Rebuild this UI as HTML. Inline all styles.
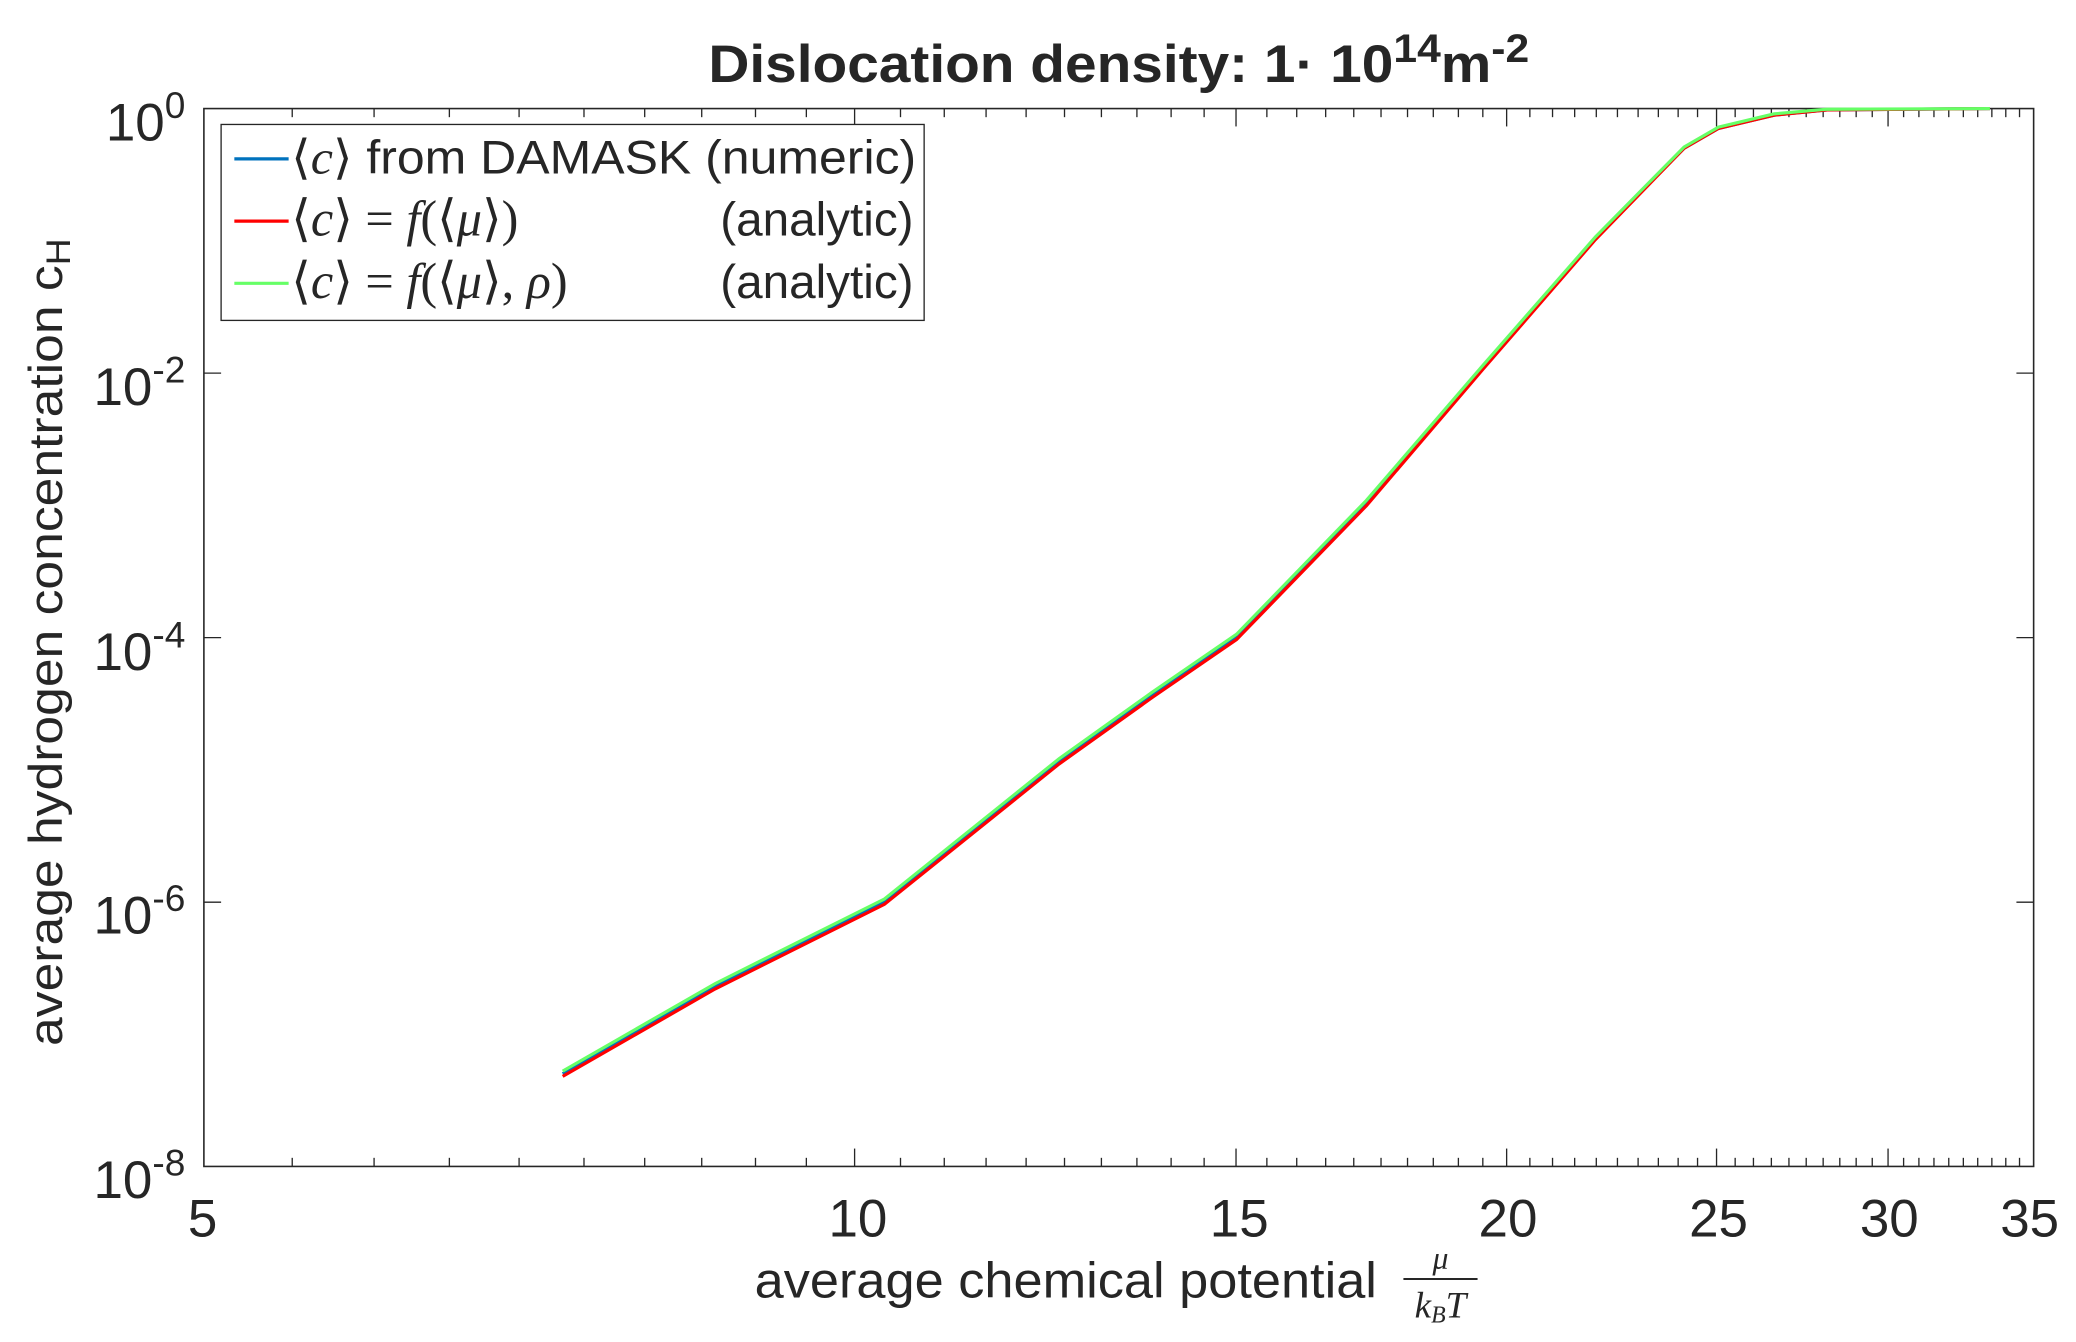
<!DOCTYPE html>
<html><head><meta charset="utf-8"><style>
html,body{margin:0;padding:0;background:#fff;}
svg{display:block;}
text{font-family:"Liberation Sans",sans-serif;fill:#262626;}
.m{font-family:"Liberation Serif",serif;font-style:italic;}
.r{font-family:"Liberation Serif",serif;}
</style></head><body>
<svg id="s" width="2076" height="1342" viewBox="0 0 1568 1013.6" preserveAspectRatio="none" xmlns="http://www.w3.org/2000/svg">
<rect x="0" y="0" width="1568" height="1014" fill="#fff"/>
<g id="ticks" stroke="#262626" stroke-width="1"></g>
<rect x="154" y="82" width="1382" height="799" fill="none" stroke="#262626" stroke-width="1.2"/>
<polyline fill="none" stroke="#0072bd" stroke-width="2.4" points="425,811 540,745 668,681 800,575 870,525 934,481 1032,380 1120,278 1205,180 1272,112 1298,97 1340,87 1380,83 1503,82"/>
<polyline fill="none" stroke="#ff0000" stroke-width="2.4" points="425,813 540,747 668,683 800,577 870,527 934,483 1032,382 1120,279 1205,181 1272,112 1298,97 1340,87 1380,83 1503,82"/>
<polyline fill="none" stroke="#66ff66" stroke-width="2.4" points="425,809 540,743 668,679 800,573 870,523 934,479 1032,378 1120,276 1205,179 1272,111 1298,96 1340,86 1380,82.5 1503,82"/>
<rect x="167" y="94" width="531" height="148" fill="#fff" stroke="#262626" stroke-width="1"/>
<line x1="177" y1="120" x2="218" y2="120" stroke="#0072bd" stroke-width="2.4"/>
<line x1="177" y1="167" x2="218" y2="167" stroke="#ff0000" stroke-width="2.4"/>
<line x1="177" y1="214" x2="218" y2="214" stroke="#66ff66" stroke-width="2.4"/>
<g font-size="36">
<text x="220" y="131" fill="#000" textLength="472" lengthAdjust="spacingAndGlyphs"><tspan class="r">⟨</tspan><tspan class="m">c</tspan><tspan class="r">⟩</tspan> from DAMASK (numeric)</text>
<text x="220" y="178" fill="#000" font-size="38"><tspan class="r">⟨</tspan><tspan class="m">c</tspan><tspan class="r">⟩ = </tspan><tspan class="m">f</tspan><tspan class="r">(⟨</tspan><tspan class="m">μ</tspan><tspan class="r">⟩)</tspan></text>
<text x="690" y="178" text-anchor="end" fill="#000">(analytic)</text>
<text x="220" y="225" fill="#000" font-size="38"><tspan class="r">⟨</tspan><tspan class="m">c</tspan><tspan class="r">⟩ = </tspan><tspan class="m">f</tspan><tspan class="r">(⟨</tspan><tspan class="m">μ</tspan><tspan class="r">⟩, </tspan><tspan class="m">ρ</tspan><tspan class="r">)</tspan></text>
<text x="690" y="225" text-anchor="end" fill="#000">(analytic)</text>
</g>
<text x="845" y="62" font-size="40" font-weight="bold" text-anchor="middle" fill="#000" textLength="620" lengthAdjust="spacingAndGlyphs">Dislocation density: 1· 10<tspan dy="-15" font-size="30">14</tspan><tspan dy="15">m</tspan><tspan dy="-15" font-size="30">-2</tspan></text>
<g font-size="40" text-anchor="end">
<text x="140" y="106">10<tspan dy="-17" font-size="28">0</tspan></text>
<text x="140" y="306">10<tspan dy="-17" font-size="28">-2</tspan></text>
<text x="140" y="506">10<tspan dy="-17" font-size="28">-4</tspan></text>
<text x="140" y="705">10<tspan dy="-17" font-size="28">-6</tspan></text>
<text x="140" y="905">10<tspan dy="-17" font-size="28">-8</tspan></text>
</g>
<g font-size="40" text-anchor="middle">
<text x="153" y="934">5</text>
<text x="648" y="934">10</text>
<text x="936" y="934">15</text>
<text x="1139" y="934">20</text>
<text x="1298" y="934">25</text>
<text x="1427" y="934">30</text>
<text x="1533" y="934">35</text>
</g>
<text x="0" y="0" font-size="36" text-anchor="middle" transform="translate(47,485) rotate(-90)" textLength="610" lengthAdjust="spacingAndGlyphs">average hydrogen concentration c<tspan font-size="26" dy="6">H</tspan></text>
<text x="805" y="980" font-size="38" text-anchor="middle" textLength="470" lengthAdjust="spacingAndGlyphs">average chemical potential</text>
<text x="1088" y="958" font-size="24" class="m" text-anchor="middle">μ</text>
<line x1="1060" y1="966" x2="1116" y2="966" stroke="#262626" stroke-width="1.5"/>
<text x="1088" y="995" font-size="28" class="m" text-anchor="middle">k<tspan font-size="18" dy="4">B</tspan><tspan dy="-4">T</tspan></text>
</svg>
<script>
(function(){
var g=document.getElementById('ticks'),ns='http://www.w3.org/2000/svg';
function L(x1,y1,x2,y2){var l=document.createElementNS(ns,'line');l.setAttribute('x1',x1);l.setAttribute('y1',y1);l.setAttribute('x2',x2);l.setAttribute('y2',y2);g.appendChild(l);}
for(var v=5.5;v<35;v+=0.5){var x=153+710.5*Math.log(v/5);var maj=Math.abs(v%5)<1e-6;var len=maj?13.5:6.5;L(x,881,x,881-len);L(x,82,x,82+len);}
for(var d=2;d<8;d+=2){var y=82+d*99.9;L(154,y,167,y);L(1536,y,1523,y);}
})();
</script>
</body></html>
